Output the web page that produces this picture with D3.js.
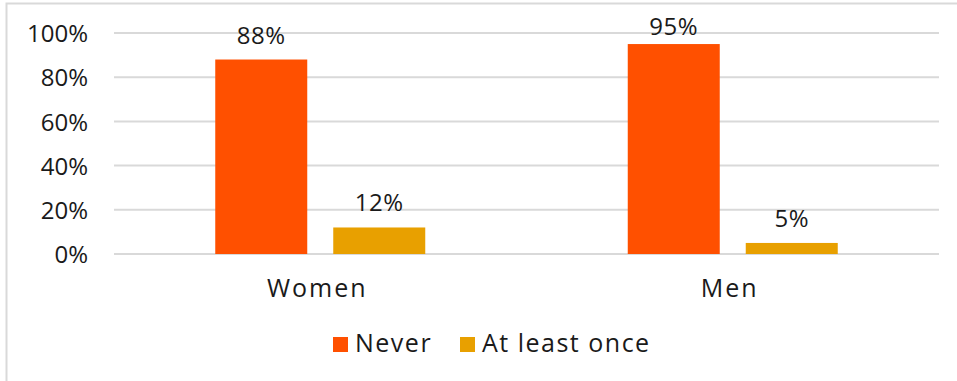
<!DOCTYPE html>
<html>
<head>
<meta charset="utf-8">
<script src="https://cdn.jsdelivr.net/npm/d3@7"></script>
<style>
  html, body { margin: 0; padding: 0; background: #fff; }
  svg { display: block; font-family: "Open Sans", "DejaVu Sans", sans-serif; }
</style>
</head>
<body>
<svg id="chart" width="957" height="381"></svg>
<script>
// Survey groups and the share answering each way
const categories = ["Women", "Men"];
const seriesNames = ["Never", "At least once"];
const neverValues = [88, 95];
const atLeastOnceValues = [12, 5];
const yTicks = [0, 20, 40, 60, 80, 100];

const colors = ["#FF5000", "#E8A000"];
const textColor = "#1a1a1a";

const svg = d3.select("#chart");
const W = 957, H = 381;
const margin = { left: 114, right: 18, top: 33, bottom: 127 };

// Frame line along the top and left
svg.append("path")
  .attr("d", `M6.5,${H} V3.5 H${W}`)
  .attr("fill", "none")
  .attr("stroke", "#d9d9d9")
  .attr("stroke-width", 2);

const x0 = d3.scaleBand()
  .domain(categories)
  .range([margin.left, W - margin.right])
  .paddingInner(0)
  .paddingOuter(0);

const y = d3.scaleLinear()
  .domain([0, 100])
  .range([H - margin.bottom, margin.top]);

// Gridlines
svg.append("g")
  .selectAll("line")
  .data(yTicks)
  .join("line")
  .attr("x1", margin.left)
  .attr("x2", W - margin.right)
  .attr("y1", d => y(d))
  .attr("y2", d => y(d))
  .attr("stroke", "#d9d9d9")
  .attr("stroke-width", 2);

// Y axis labels
const yAxis = d3.axisLeft(y)
  .tickValues(yTicks)
  .tickFormat(d => d + "%")
  .tickSize(0)
  .tickPadding(26);
const gy = svg.append("g")
  .attr("transform", `translate(${margin.left},0)`)
  .call(yAxis);
gy.select(".domain").remove();
gy.selectAll("text")
  .attr("font-size", 24)
  .attr("fill", textColor)
  .attr("font-family", "'Open Sans', sans-serif")
  .attr("dy", "0.36em");

// Bars
const data = categories.map((c, i) => ({
  category: c,
  values: [neverValues[i], atLeastOnceValues[i]]
}));

const barW = 92, gap = 26;
const groupW = barW * 2 + gap;

const groups = svg.append("g")
  .selectAll("g")
  .data(data)
  .join("g")
  .attr("transform", d => `translate(${x0(d.category) + x0.bandwidth() / 2 - groupW / 2},0)`);

groups.selectAll("rect")
  .data(d => d.values.map((v, j) => ({ v, j })))
  .join("rect")
  .attr("x", d => d.j * (barW + gap))
  .attr("width", barW)
  .attr("y", d => y(d.v))
  .attr("height", d => y(0) - y(d.v))
  .attr("fill", d => colors[d.j]);

// Value labels, kept inside the chart area near the top
groups.selectAll("text")
  .data(d => d.values.map((v, j) => ({ v, j })))
  .join("text")
  .attr("x", d => d.j * (barW + gap) + barW / 2)
  .attr("y", d => Math.max(y(d.v) - 16, 35))
  .attr("text-anchor", "middle")
  .attr("font-size", 24)
  .attr("letter-spacing", 0.5)
  .attr("fill", textColor)
  .text(d => d.v + "%");

// Category labels
svg.append("g")
  .selectAll("text")
  .data(categories)
  .join("text")
  .attr("x", d => x0(d) + x0.bandwidth() / 2 - 3)
  .attr("y", 297)
  .attr("text-anchor", "middle")
  .attr("font-size", 25)
  .attr("letter-spacing", 2)
  .attr("fill", textColor)
  .text(d => d);

// Legend
const legend = svg.append("g").attr("transform", "translate(333,337)");
const legendX = [0, 127];
seriesNames.forEach((name, i) => {
  const g = legend.append("g").attr("transform", `translate(${legendX[i]},0)`);
  g.append("rect").attr("width", 15).attr("height", 15).attr("fill", colors[i]);
  g.append("text")
    .attr("x", 22)
    .attr("y", 15)
    .attr("font-size", 25)
    .attr("letter-spacing", 1.5)
    .attr("fill", textColor)
    .text(name);
});
</script>
</body>
</html>
